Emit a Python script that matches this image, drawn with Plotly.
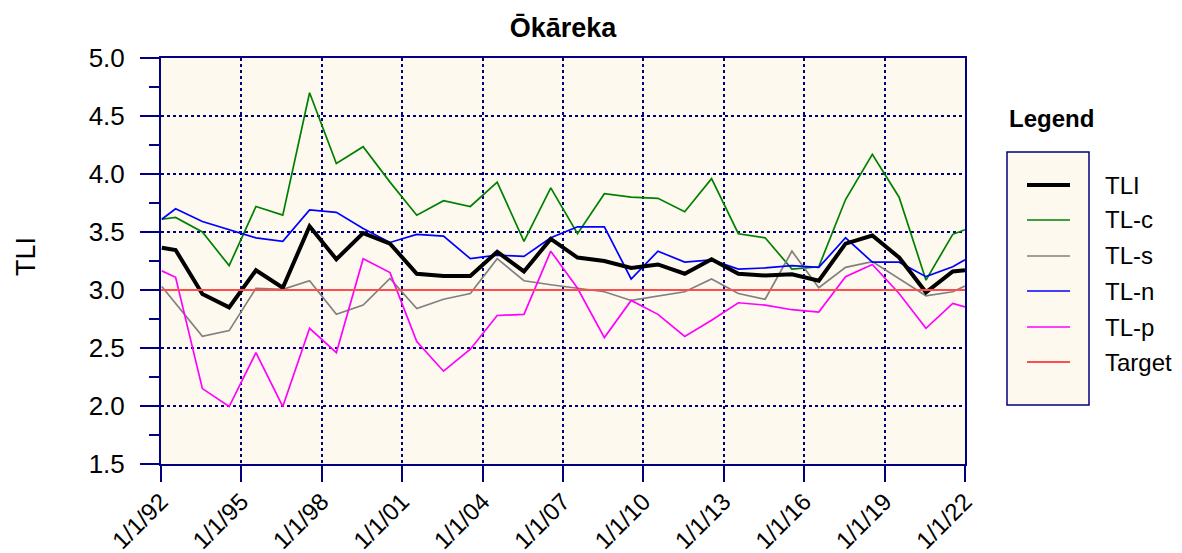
import plotly.graph_objects as go

# ---------------- data ----------------
dates = ["1992-01-12"] + [f"{y}-07-18" for y in range(1992, 2022)] + ["2022-01-01"]

tli = [3.365, 3.345, 2.965, 2.85, 3.17, 3.02, 3.55, 3.265, 3.49, 3.40, 3.14,
       3.12, 3.12, 3.33, 3.16, 3.44, 3.28, 3.25, 3.19, 3.22, 3.14,
       3.265, 3.14, 3.125, 3.135, 3.08, 3.40, 3.47, 3.28, 2.98, 3.16, 3.17]

tl_c = [3.61, 3.625, 3.50, 3.21, 3.72, 3.645, 4.70, 4.09, 4.235, 3.93, 3.645,
        3.77, 3.72, 3.93, 3.42, 3.88, 3.485, 3.83, 3.80, 3.79, 3.675,
        3.96, 3.485, 3.45, 3.18, 3.20, 3.78, 4.17, 3.80, 3.085, 3.48, 3.52]

tl_s = [3.03, 2.885, 2.60, 2.65, 3.015, 3.005, 3.08, 2.79, 2.87, 3.10, 2.84,
        2.92, 2.97, 3.27, 3.08, 3.045, 3.015, 2.985, 2.91, 2.95, 2.985,
        3.095, 2.97, 2.92, 3.335, 3.02, 3.195, 3.245, 3.10, 2.95, 2.985, 3.035]

tl_n = [3.61, 3.70, 3.59, 3.52, 3.45, 3.42, 3.69, 3.67, 3.53, 3.41, 3.48,
        3.465, 3.27, 3.30, 3.29, 3.45, 3.545, 3.545, 3.095, 3.335, 3.24,
        3.26, 3.18, 3.19, 3.21, 3.195, 3.45, 3.24, 3.24, 3.115, 3.20, 3.26]

tl_p = [3.165, 3.11, 2.15, 1.995, 2.46, 1.995, 2.67, 2.46, 3.27, 3.15, 2.555,
        2.30, 2.49, 2.78, 2.79, 3.335, 3.015, 2.59, 2.91, 2.79, 2.60,
        2.74, 2.89, 2.87, 2.83, 2.81, 3.115, 3.22, 2.97, 2.67, 2.885, 2.855]

target_dates = ["1992-01-01", "2022-01-01"]
target_vals = [3.0, 3.0]

tick_years = list(range(1992, 2023, 3))
tick_vals = [f"{y}-01-01" for y in tick_years]
tick_text = [f"1/1/{y % 100:02d}" for y in tick_years]

legend_names = ["TLI", "TL-c", "TL-s", "TL-n", "TL-p", "Target"]

# ---------------- styles ----------------
NAVY = "#000080"
BG = "#FDF9EE"
FONT = "Liberation Sans, Arial, sans-serif"
styles = {
    "TLI": dict(color="#000000", width=4),
    "TL-c": dict(color="#008000", width=1.7),
    "TL-s": dict(color="#808080", width=1.7),
    "TL-n": dict(color="#0000FF", width=1.7),
    "TL-p": dict(color="#FF00FF", width=1.7),
    "Target": dict(color="#FF4D4D", width=2),
}

fig = go.Figure()
series = [("TL-c", dates, tl_c), ("TL-s", dates, tl_s), ("TL-n", dates, tl_n),
          ("TL-p", dates, tl_p), ("TLI", dates, tli), ("Target", target_dates, target_vals)]
for name, xs, ys in series:
    fig.add_trace(go.Scatter(x=xs, y=ys, mode="lines", name=name,
                             line=styles[name], showlegend=False, cliponaxis=True))

# ---------------- layout ----------------
L, R, T, B = 161, 217, 58, 89
W, H = 1182, 553
pw, ph = W - L - R, H - T - B

def px_x(p):
    return (p - L) / pw

def px_y(p):
    return (H - B - p) / ph

fig.update_layout(
    width=W, height=H,
    margin=dict(l=L, r=R, t=T, b=B, autoexpand=False),
    paper_bgcolor="white", plot_bgcolor=BG,
    font=dict(family=FONT, size=25, color="black"),
    title=dict(text="<b>Ōkāreka</b>", x=0.5, xref="paper", y=1 - 28 / H,
               yref="container", yanchor="middle", xanchor="center",
               font=dict(size=27, family=FONT)),
)

fig.update_xaxes(
    type="date", range=["1992-01-01", "2022-01-01"],
    tickmode="array", tickvals=tick_vals, ticktext=tick_text, tickangle=-45,
    ticks="outside", ticklen=16, tickwidth=2, tickcolor=NAVY,
    showline=True, linecolor=NAVY, linewidth=2, mirror=True,
    showgrid=True, gridcolor=NAVY, griddash="dot", gridwidth=1.5,
    zeroline=False, tickfont=dict(size=24), ticklabelstandoff=-4,
)
fig.update_yaxes(
    range=[1.5, 5.0], dtick=0.5, tick0=0, tickformat=".1f",
    ticks="outside", ticklen=19, tickwidth=2, tickcolor=NAVY,
    showline=True, linecolor=NAVY, linewidth=2, mirror=True,
    showgrid=True, gridcolor=NAVY, griddash="dot", gridwidth=1.5,
    zeroline=False, tickfont=dict(size=26), ticklabelstandoff=10,
    minor=dict(dtick=0.25, ticks="outside", ticklen=10, tickwidth=2,
               tickcolor=NAVY, showgrid=False),
)

# y-axis title
fig.add_annotation(text="TLI", textangle=-90, xref="paper", yref="paper",
                   x=px_x(26), y=px_y(257), showarrow=False,
                   xanchor="center", yanchor="middle", font=dict(size=27))

# ---------------- custom legend ----------------
fig.add_annotation(text="<b>Legend</b>", xref="paper", yref="paper",
                   x=px_x(1051), y=px_y(118), showarrow=False,
                   xanchor="center", yanchor="middle", font=dict(size=24))
fig.add_shape(type="rect", xref="paper", yref="paper",
              x0=px_x(1007), x1=px_x(1089), y0=px_y(405), y1=px_y(152),
              fillcolor=BG, line=dict(color=NAVY, width=1.5), layer="below")
row_y = [185, 220, 256, 291, 327, 362]
for name, ry in zip(legend_names, row_y):
    st = styles[name]
    fig.add_shape(type="line", xref="paper", yref="paper",
                  x0=px_x(1027), x1=px_x(1070), y0=px_y(ry), y1=px_y(ry),
                  line=dict(color=st["color"], width=st["width"]))
    fig.add_annotation(text=name, xref="paper", yref="paper",
                       x=px_x(1103), y=px_y(ry), showarrow=False,
                       xanchor="left", yanchor="middle", font=dict(size=24))

fig.write_html("out.html", config={"displayModeBar": False},
               post_script="document.body.style.margin='0';")
